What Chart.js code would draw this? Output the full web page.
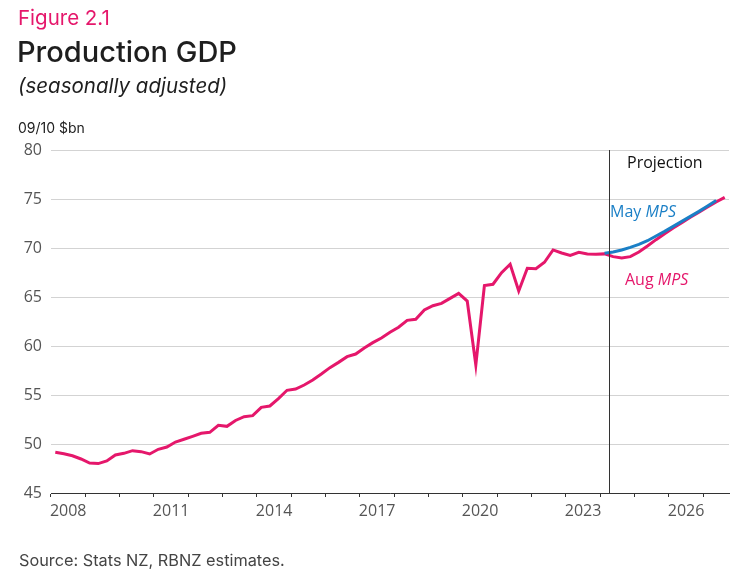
<!DOCTYPE html>
<html>
<head>
<meta charset="utf-8">
<script src="https://cdn.jsdelivr.net/npm/chart.js@4.4.1/dist/chart.umd.min.js"></script>
<style>
  html, body { margin: 0; padding: 0; background: #fff; }
  body { width: 734px; height: 587px; position: relative; overflow: hidden; font-family: "Open Sans", sans-serif; }
  #wrap { position: absolute; left: 0; top: 0; width: 734px; height: 587px; }
  .txt { position: absolute; white-space: nowrap; }
  .fig { left: 18px; top: 5px; font-family: Inter, sans-serif; font-size: 20.5px; color: #e5176b; }
  .title { left: 17px; top: 34px; font-family: Inter, sans-serif; font-weight: 500; font-size: 29px; color: #1e1e1e; }
  .sub { left: 18px; top: 73px; font-family: Inter, sans-serif; font-style: italic; font-size: 20.5px; color: #1e1e1e; }
  .unit { left: 18px; top: 119px; font-family: Inter, sans-serif; font-size: 14px; color: #222; }
  .src { left: 19px; top: 550px; font-family: Inter, sans-serif; font-size: 16.3px; color: #444; }
  .proj { left: 627px; top: 151px; font-size: 16px; color: #111; }
  .may { left: 610px; top: 200px; font-size: 16px; color: #1a7fc6; }
  .aug { left: 625px; top: 268px; font-size: 16px; color: #e5176b; }
</style>
</head>
<body>
<div id="wrap"><canvas id="gdpChart" width="734" height="587"></canvas></div>
<div class="txt fig">Figure 2.1</div>
<div class="txt title">Production GDP</div>
<div class="txt sub">(seasonally adjusted)</div>
<div class="txt unit">09/10 $bn</div>
<div class="txt src">Source: Stats NZ, RBNZ estimates.</div>
<div class="txt proj">Projection</div>
<div class="txt may">May <i>MPS</i></div>
<div class="txt aug">Aug <i>MPS</i></div>
<script>
document.addEventListener('DOMContentLoaded', () => {
    // quarters 2008Q1 .. 2027Q3
    const quarters = [];
    for (let y = 2008; y <= 2027; y++) {
        for (let q = 1; q <= 4; q++) {
            if (y === 2027 && q === 4) break;
            quarters.push(y + 'Q' + q);
        }
    }

    // actual GDP, 2008Q1 .. 2024Q1
    const actualGdp = [
        49.15, 49.0, 48.8, 48.47, 48.06, 48.0, 48.27, 48.88,
        49.05, 49.32, 49.22, 48.98, 49.46, 49.69, 50.2, 50.48,
        50.78, 51.09, 51.19, 51.9, 51.8, 52.4, 52.79, 52.89,
        53.74, 53.88, 54.63, 55.48, 55.61, 56.02, 56.53, 57.14,
        57.79, 58.33, 58.91, 59.18, 59.8, 60.34, 60.82, 61.4,
        61.91, 62.62, 62.72, 63.67, 64.11, 64.35, 64.86, 65.37,
        64.59, 58.06, 66.16, 66.3, 67.48, 68.34, 65.61, 67.93,
        67.89, 68.54, 69.8, 69.49, 69.25, 69.56, 69.39, 69.36,
        69.4
    ];
    // August MPS projection, 2024Q2 .. 2027Q3
    const augProjection = [
        69.12, 68.98, 69.12, 69.59, 70.2, 70.85, 71.46, 72.04,
        72.58, 73.13, 73.64, 74.18, 74.7, 75.17
    ];
    // May MPS projection, 2024Q1 .. 2027Q2
    const mayProjection = [
        69.46, 69.59, 69.8, 70.07, 70.37, 70.74, 71.22, 71.7,
        72.21, 72.72, 73.23, 73.74, 74.29, 74.85
    ];
    const yTicks = [45, 50, 55, 60, 65, 70, 75, 80];
    const yearLabels = ['2008', '2011', '2014', '2017', '2020', '2023', '2026'];

    const augSeries = actualGdp.concat(augProjection);
    const maySeries = quarters.map((q, i) => {
        const k = i - (actualGdp.length - 1);
        return k >= 0 && k < mayProjection.length ? mayProjection[k] : null;
    });

    const pink = '#e5176b';
    const blue = '#1a7fc6';

    // vertical line where the projection starts
    const projectionLine = {
        id: 'projectionLine',
        afterDatasetsDraw(chart) {
            const x = chart.scales.x;
            const area = chart.chartArea;
            const last = actualGdp.length - 1;
            const px = Math.round((x.getPixelForValue(last) + x.getPixelForValue(last + 1)) / 2) + 0.5;
            const ctx = chart.ctx;
            ctx.save();
            ctx.strokeStyle = '#333';
            ctx.lineWidth = 1;
            ctx.beginPath();
            ctx.moveTo(px, area.top);
            ctx.lineTo(px, area.bottom);
            ctx.stroke();
            ctx.restore();
        }
    };

    new Chart(document.getElementById('gdpChart'), {
        type: 'line',
        data: {
            labels: quarters,
            datasets: [
                {
                    label: 'May MPS',
                    data: maySeries,
                    borderColor: blue,
                    borderWidth: 3,
                    pointRadius: 0,
                    tension: 0,
                    spanGaps: false
                },
                {
                    label: 'Aug MPS',
                    data: augSeries,
                    borderColor: pink,
                    borderWidth: 3,
                    pointRadius: 0,
                    tension: 0
                }
            ]
        },
        options: {
            responsive: false,
            animation: false,
            layout: { padding: { left: 0, right: 5, top: 150, bottom: 64 } },
            plugins: {
                legend: { display: false },
                tooltip: { enabled: false }
            },
            scales: {
                x: {
                    type: 'category',
                    offset: true,
                    afterFit: (scale) => { scale.height = 30; },
                    grid: {
                        offset: true,
                        drawOnChartArea: false,
                        drawTicks: true,
                        tickLength: 4,
                        tickColor: (ctx) => (ctx.index !== undefined && ctx.index % 4 === 0) ? '#333' : 'rgba(0,0,0,0)'
                    },
                    border: { display: true, color: '#333', width: 1 },
                    ticks: {
                        autoSkip: false,
                        maxRotation: 0,
                        minRotation: 0,
                        padding: 5,
                        labelOffset: 4.3,
                        color: '#555',
                        font: { family: 'Open Sans', size: 16 },
                        callback: function(value, index) {
                            const label = this.getLabelForValue(value);
                            const year = label.slice(0, 4);
                            return (label.endsWith('Q2') && yearLabels.includes(year)) ? year : '';
                        }
                    }
                },
                y: {
                    min: yTicks[0],
                    max: yTicks[yTicks.length - 1],
                    afterFit: (scale) => { scale.width = 51; },
                    afterBuildTicks: (scale) => { scale.ticks = yTicks.map(v => ({ value: v })); },
                    grid: { color: '#d3d3d3', lineWidth: 1, drawTicks: false },
                    border: { display: false },
                    ticks: {
                        padding: 9,
                        color: '#555',
                        font: { family: 'Open Sans', size: 16 }
                    }
                }
            }
        },
        plugins: [projectionLine]
    });
});
</script>
</body>
</html>
